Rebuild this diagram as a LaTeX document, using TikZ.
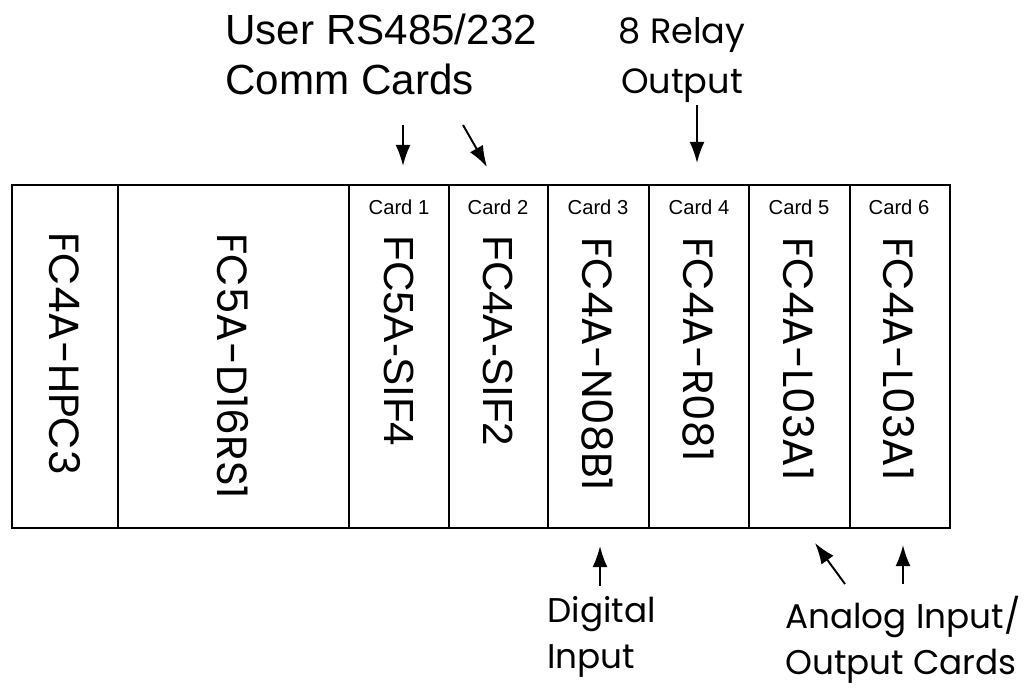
\documentclass[tikz,border=0pt]{standalone}
\usepackage{fontspec}
\setmainfont{Liberation Sans}
\newfontfamily\gothic{Poppins}
\usetikzlibrary{arrows.meta}
\tikzset{>={Latex[width=8.5pt,length=12pt]}}

\begin{document}
\begin{tikzpicture}[x=0.02cm, y=-0.02cm,
    rack/.style={draw=black, line width=1.2pt},
    part/.style={rotate=-90, anchor=west, inner sep=0pt},
    arialbig/.style={font=\fontsize{24}{28}\selectfont},
    gothicbig/.style={font=\gothic\fontsize{24}{28}\selectfont},
    slotno/.style={anchor=base, inner sep=0pt, font=\fontsize{11.5}{13}\selectfont},
    note/.style={inner sep=0pt, align=left, anchor=north west},
    pointer/.style={->, line width=1.1pt}]
  \useasboundingbox (0,0) rectangle (1035,688);

  % rack and slots
  \draw[rack] (12,185) rectangle (950,528);
  \draw[rack] (118,185) -- (118,528);
  \draw[rack] (349,185) -- (349,528);
  \draw[rack] (449,185) -- (449,528);
  \draw[rack] (548,185) -- (548,528);
  \draw[rack] (649,185) -- (649,528);
  \draw[rack] (749,185) -- (749,528);
  \draw[rack] (850,185) -- (850,528);

  % card numbers
  \node[slotno] (card1) at (399,215) {Card 1};
  \node[slotno] (card2) at (498,215) {Card 2};
  \node[slotno] (card3) at (598,215) {Card 3};
  \node[slotno] (card4) at (699,215) {Card 4};
  \node[slotno] (card5) at (799,215) {Card 5};
  \node[slotno] (card6) at (899,215) {Card 6};

  % modules
  \node[part, gothicbig] (cpu) at (65,232) {FC4A-HPC3};
  \node[part, gothicbig] (base) at (233,233) {FC5A-D16RS1};
  \node[part, arialbig] (sif4) at (399,235) {FC5A-SIF4};
  \node[part, arialbig] (sif2) at (498,235) {FC4A-SIF2};
  \node[part, gothicbig] (dig) at (598,237) {FC4A-N08B1};
  \node[part, gothicbig] (rly) at (699,237) {FC4A-R081};
  \node[part, gothicbig] (ana1) at (799,237) {FC4A-L03A1};
  \node[part, gothicbig] (ana2) at (899,237) {FC4A-L03A1};

  % captions
  \node[note, font=\fontsize{24}{28.5}\selectfont] (comm) at (225,14) {User RS485/232\\Comm Cards};
  \node[inner sep=0pt, align=center, anchor=north, font=\gothic\fontsize{20}{28.5}\selectfont] (relay) at (682,17) {8 Relay\\Output};
  \node[note, font=\gothic\fontsize{19.5}{26}\selectfont] (digin) at (547,596) {Digital\\Input};
  \node[note, font=\gothic\fontsize{19.5}{26}\selectfont] (anaio) at (785,596) {Analog Input/\\Output Cards};

  % pointers
  \coordinate (p1) at (403,125);
  \coordinate (q1) at (403,166);
  \coordinate (p2) at (463,125);
  \coordinate (q2) at (487,167);
  \coordinate (p4) at (697,105);
  \coordinate (q4) at (697,163);
  \coordinate (p3) at (600,586);
  \coordinate (q3) at (600,546);
  \coordinate (p5) at (845,584);
  \coordinate (q5) at (815,543);
  \coordinate (p6) at (903,584);
  \coordinate (q6) at (903,545);
  \draw[pointer] (p1) -- (q1);
  \draw[pointer] (p2) -- (q2);
  \draw[pointer] (p4) -- (q4);
  \draw[pointer] (p3) -- (q3);
  \draw[pointer] (p5) -- (q5);
  \draw[pointer] (p6) -- (q6);
\end{tikzpicture}
\end{document}
